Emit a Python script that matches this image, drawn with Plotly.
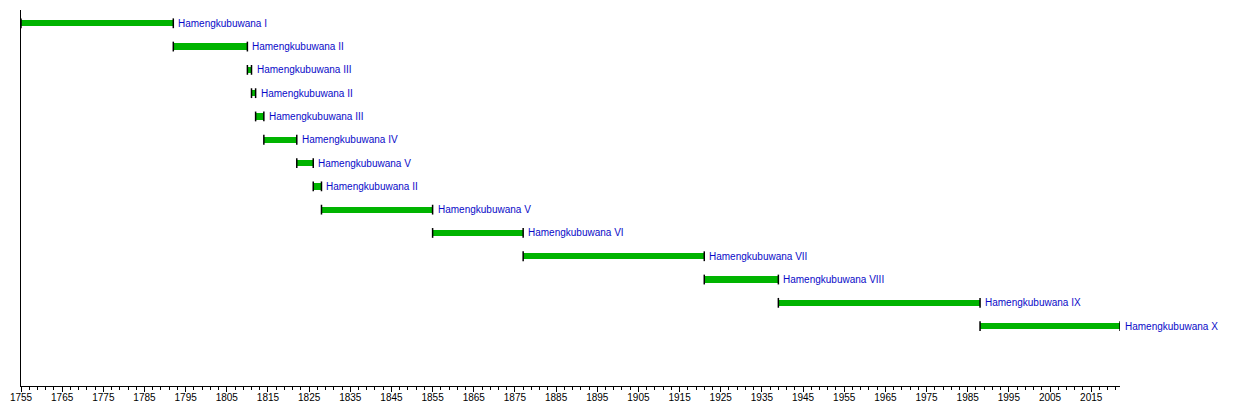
import plotly.graph_objects as go

# reigns of the sultans
names = ['Hamengkubuwana I', 'Hamengkubuwana II', 'Hamengkubuwana III',
         'Hamengkubuwana II', 'Hamengkubuwana III', 'Hamengkubuwana IV',
         'Hamengkubuwana V', 'Hamengkubuwana II', 'Hamengkubuwana V',
         'Hamengkubuwana VI', 'Hamengkubuwana VII', 'Hamengkubuwana VIII',
         'Hamengkubuwana IX', 'Hamengkubuwana X']
start = [1755, 1792, 1810, 1811, 1812, 1814, 1822, 1826, 1828, 1855, 1877, 1921, 1939, 1988]
end = [1792, 1810, 1811, 1812, 1814, 1822, 1826, 1828, 1855, 1877, 1921, 1939, 1988, 2022]
rows = list(range(len(names)))

major_ticks = list(range(1755, 2016, 10))
minor_ticks = list(range(1757, 2022, 2))

bar_green = 'rgb(0,180,0)'
label_blue = 'rgb(10,10,200)'

fig = go.Figure()

fig.add_bar(y=rows, x=[e - s for s, e in zip(start, end)], base=start,
            orientation='h', width=0.27,
            marker=dict(color=bar_green, line=dict(width=0)),
            hoverinfo='skip', showlegend=False)

# dark caps at both ends of every bar
fig.add_scatter(x=start + end, y=rows + rows, mode='markers',
                marker=dict(symbol='line-ns', size=7,
                            line=dict(color='black', width=1.5)),
                hoverinfo='skip', showlegend=False)

for r, e, n in zip(rows, end, names):
    fig.add_annotation(x=e, y=r, text=n, showarrow=False,
                       xanchor='left', yanchor='middle', xshift=3,
                       font=dict(color=label_blue, size=10))

fig.update_xaxes(range=[1755, 2022], showgrid=False, zeroline=False,
                 showline=True, linecolor='black', linewidth=1,
                 tickmode='array', tickvals=major_ticks,
                 ticktext=[str(t) for t in major_ticks],
                 ticks='outside', ticklen=5, tickcolor='black',
                 ticklabelstandoff=-3,
                 tickfont=dict(size=10, color='black'),
                 minor=dict(tickmode='array', tickvals=minor_ticks,
                            ticks='outside', ticklen=3, tickcolor='black'))

fig.update_yaxes(range=[15.57, -0.57], showgrid=False, zeroline=False,
                 showline=True, linecolor='black', linewidth=1,
                 showticklabels=False, ticks='')

# page body has an 8px margin, so the figure is sized to what is left
fig.update_layout(width=1242, height=397,
                  margin=dict(l=13, r=130, t=2, b=16),
                  plot_bgcolor='white', paper_bgcolor='white',
                  font=dict(family='Liberation Sans, Arial, sans-serif'),
                  bargap=0)

fig.write_html('out.html')
